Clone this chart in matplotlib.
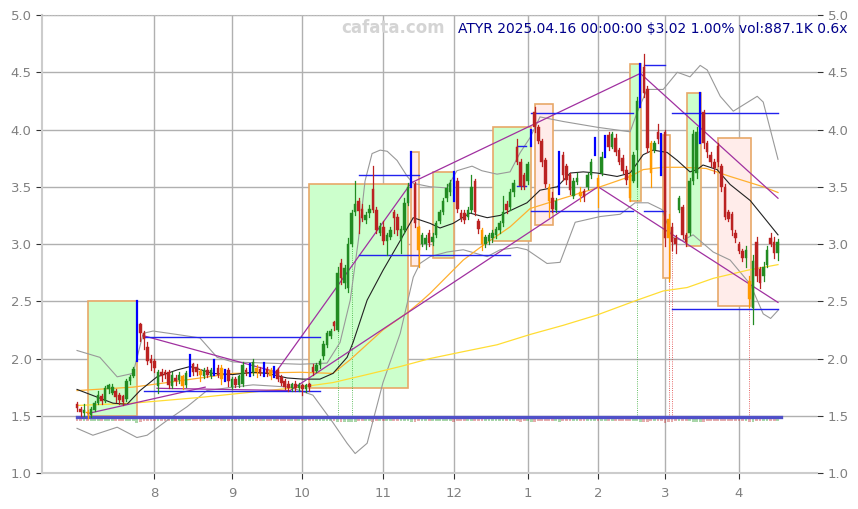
import numpy as np
import matplotlib.pyplot as plt
from matplotlib.patches import Rectangle

# daily bars, trading-day index 0 = 2024-07-01, 199 = 2025-04-16
opens = [
    # Jul
    1.60, 1.56, 1.52, 1.53, 1.51, 1.55, 1.61, 1.67, 1.63, 1.73, 1.70, 1.72, 1.68, 1.67, 1.65, 1.80, 1.85, 1.99, 2.30, 2.22, 2.10, 2.00,
    # Aug
    1.98, 1.76, 1.88, 1.88, 1.88, 1.76, 1.83, 1.81, 1.85, 1.77, 1.90, 1.95, 1.93, 1.89, 1.85, 1.90, 1.85, 1.88, 1.92, 1.92, 1.82, 1.90,
    # Sep
    1.75, 1.82, 1.77, 1.78, 1.90, 1.88, 1.88, 1.92, 1.91, 1.88, 1.91, 1.90, 1.86, 1.90, 1.84, 1.80, 1.78, 1.74, 1.78, 1.74,
    # Oct
    1.77, 1.73, 1.78, 1.93, 1.89, 1.94, 2.02, 2.12, 2.20, 2.32, 2.25, 2.83, 2.66, 2.62, 3.00, 3.28, 3.38, 3.31, 3.21, 3.27, 3.48, 3.30, 3.10,
    # Nov
    3.15, 3.03, 3.06, 3.28, 3.24, 3.04, 3.12, 3.36, 3.52, 3.52, 3.15, 3.00, 3.00, 3.10, 3.02, 3.08, 3.20, 3.28, 3.40, 3.45,
    # Dec
    3.62, 3.55, 3.27, 3.27, 3.24, 3.30, 3.55, 3.20, 3.12, 3.00, 3.03, 3.05, 3.08, 3.12, 3.18, 3.35, 3.32, 3.45, 3.85, 3.72, 3.60,
    # Jan
    3.55, 3.88, 4.15, 4.02, 3.90, 3.73, 3.50, 3.40, 3.30, 3.45, 3.78, 3.68, 3.60, 3.42, 3.54, 3.45, 3.46, 3.50, 3.60, 3.80,
    # Feb
    3.58, 3.62, 3.78, 3.95, 3.85, 3.93, 3.82, 3.75, 3.65, 3.60, 3.55, 3.82, 4.22, 4.55, 4.35, 3.88, 3.82, 3.98, 3.95,
    # Mar
    3.98, 3.22, 3.15, 3.05, 3.30, 3.32, 3.08, 3.10, 3.55, 3.62, 3.92, 4.15, 3.88, 3.78, 3.72, 3.86, 3.68, 3.50, 3.28, 3.26, 3.10,
    # Apr
    3.00, 2.94, 2.88, 2.68, 2.44, 3.02, 2.78, 2.72, 2.82, 3.05, 3.02, 2.92,
]
highs = [
    1.62, 1.58, 1.60, 1.55, 1.58, 1.63, 1.72, 1.69, 1.76, 1.78, 1.78, 1.73, 1.70, 1.68, 1.82, 1.86, 1.93, 2.50, 2.31, 2.24, 2.14, 2.03,
    2.00, 1.90, 1.91, 1.90, 1.90, 1.88, 1.86, 1.88, 1.86, 1.89, 2.03, 1.96, 1.95, 1.91, 1.92, 1.93, 1.92, 1.99, 1.94, 1.94, 1.90, 1.92,
    1.84, 1.84, 1.86, 1.97, 1.92, 1.95, 2.00, 1.94, 1.93, 1.96, 1.93, 1.92, 1.93, 1.92, 1.86, 1.82, 1.80, 1.79, 1.80, 1.79,
    1.78, 1.78, 1.79, 1.95, 1.96, 2.00, 2.15, 2.24, 2.26, 2.33, 2.80, 2.87, 2.82, 3.05, 3.30, 3.55, 3.40, 3.35, 3.28, 3.34, 3.68, 3.32, 3.18,
    3.20, 3.10, 3.15, 3.30, 3.26, 3.16, 3.40, 3.53, 3.80, 3.54, 3.16, 3.10, 3.08, 3.12, 3.10, 3.20, 3.30, 3.40, 3.52, 3.56,
    3.63, 3.58, 3.30, 3.30, 3.32, 3.60, 3.57, 3.22, 3.14, 3.08, 3.10, 3.12, 3.15, 3.20, 3.42, 3.38, 3.48, 3.56, 3.92, 3.74, 3.62,
    3.72, 4.00, 4.20, 4.04, 3.92, 3.75, 3.52, 3.45, 3.40, 3.80, 3.80, 3.70, 3.62, 3.58, 3.62, 3.50, 3.48, 3.62, 3.74, 3.93,
    3.60, 3.80, 3.94, 3.98, 3.98, 3.96, 3.84, 3.78, 3.68, 3.62, 3.80, 4.28, 4.57, 4.66, 4.38, 3.90, 3.90, 4.05, 3.96,
    4.00, 3.26, 3.18, 3.08, 3.42, 3.34, 3.10, 3.58, 4.00, 4.02, 4.32, 4.17, 3.90, 3.80, 3.74, 3.88, 3.70, 3.52, 3.30, 3.28, 3.12,
    3.02, 2.96, 2.98, 2.72, 2.90, 3.06, 2.80, 2.84, 2.98, 3.10, 3.06, 3.04,
]
lows = [
    1.54, 1.50, 1.50, 1.48, 1.49, 1.54, 1.60, 1.60, 1.62, 1.70, 1.69, 1.62, 1.60, 1.59, 1.63, 1.78, 1.84, 1.98, 2.15, 2.08, 1.95, 1.90,
    1.88, 1.70, 1.80, 1.83, 1.74, 1.74, 1.77, 1.79, 1.73, 1.75, 1.85, 1.86, 1.86, 1.80, 1.83, 1.84, 1.83, 1.86, 1.84, 1.78, 1.80, 1.76,
    1.73, 1.75, 1.75, 1.76, 1.86, 1.85, 1.86, 1.84, 1.86, 1.85, 1.85, 1.82, 1.84, 1.80, 1.77, 1.73, 1.72, 1.72, 1.72, 1.72,
    1.68, 1.71, 1.72, 1.86, 1.88, 1.92, 2.00, 2.10, 2.18, 2.25, 2.24, 2.65, 2.62, 2.58, 2.98, 3.25, 3.10, 3.20, 3.18, 3.24, 3.28, 3.10, 3.08,
    3.00, 2.90, 3.04, 3.10, 3.08, 2.92, 3.10, 3.34, 3.50, 3.15, 2.80, 2.98, 2.96, 2.98, 2.99, 3.06, 3.18, 3.26, 3.38, 3.43,
    3.38, 3.28, 3.20, 3.18, 3.22, 3.28, 3.25, 3.10, 2.95, 2.97, 3.00, 3.02, 3.05, 3.10, 3.16, 3.27, 3.30, 3.42, 3.70, 3.48, 3.48,
    3.52, 3.86, 3.98, 3.88, 3.68, 3.50, 3.24, 3.28, 3.28, 3.44, 3.56, 3.52, 3.44, 3.40, 3.52, 3.38, 3.38, 3.48, 3.58, 3.78,
    3.32, 3.60, 3.76, 3.82, 3.84, 3.78, 3.70, 3.62, 3.52, 3.38, 3.54, 3.50, 4.20, 4.28, 3.80, 3.50, 3.80, 3.88, 3.60,
    2.98, 2.68, 2.95, 2.92, 3.28, 3.05, 2.98, 3.08, 3.52, 3.58, 3.88, 3.84, 3.76, 3.68, 3.62, 3.68, 3.46, 3.22, 3.20, 3.08, 3.02,
    2.92, 2.85, 2.80, 2.45, 2.30, 2.68, 2.62, 2.68, 2.80, 2.98, 2.88, 2.86,
]
closes = [
    1.57, 1.53, 1.55, 1.52, 1.56, 1.61, 1.68, 1.63, 1.74, 1.77, 1.75, 1.66, 1.64, 1.62, 1.80, 1.84, 1.91, 2.24, 2.22, 2.17, 1.98, 1.96,
    1.92, 1.88, 1.85, 1.86, 1.77, 1.86, 1.80, 1.86, 1.76, 1.87, 1.95, 1.88, 1.88, 1.86, 1.90, 1.86, 1.90, 1.93, 1.86, 1.82, 1.86, 1.80,
    1.82, 1.77, 1.85, 1.94, 1.88, 1.90, 1.97, 1.88, 1.87, 1.92, 1.87, 1.85, 1.90, 1.82, 1.79, 1.75, 1.74, 1.78, 1.74, 1.77,
    1.73, 1.77, 1.75, 1.88, 1.94, 1.98, 2.13, 2.22, 2.24, 2.28, 2.75, 2.70, 2.79, 3.00, 3.27, 3.35, 3.29, 3.23, 3.25, 3.31, 3.30, 3.12, 3.16,
    3.03, 3.08, 3.12, 3.23, 3.12, 3.13, 3.36, 3.50, 3.54, 3.18, 2.95, 3.08, 3.05, 3.01, 3.06, 3.18, 3.28, 3.38, 3.49, 3.53,
    3.42, 3.31, 3.23, 3.21, 3.30, 3.50, 3.28, 3.13, 3.00, 3.06, 3.08, 3.10, 3.13, 3.18, 3.28, 3.30, 3.45, 3.53, 3.72, 3.51, 3.50,
    3.70, 3.98, 4.02, 3.90, 3.72, 3.52, 3.38, 3.31, 3.38, 3.72, 3.60, 3.56, 3.47, 3.55, 3.58, 3.42, 3.41, 3.60, 3.72, 3.90,
    3.50, 3.76, 3.90, 3.85, 3.96, 3.80, 3.72, 3.64, 3.56, 3.40, 3.78, 4.25, 4.50, 4.32, 3.84, 3.62, 3.88, 3.92, 3.65,
    3.05, 3.05, 3.02, 3.00, 3.40, 3.08, 3.02, 3.55, 3.96, 3.98, 4.10, 3.88, 3.80, 3.72, 3.66, 3.72, 3.50, 3.24, 3.22, 3.12, 3.05,
    2.94, 2.88, 2.95, 2.52, 2.85, 2.72, 2.66, 2.80, 2.95, 3.00, 2.92, 3.02,
]
# volume, hundreds of thousands of shares
volume = [
    4, 3, 3, 5, 4, 5, 6, 4, 7, 6, 8, 5, 4, 5, 6, 7, 9, 30, 14, 10, 8, 7,
    6, 8, 5, 4, 6, 5, 4, 5, 6, 5, 9, 6, 5, 5, 4, 4, 5, 7, 5, 5, 6, 5,
    4, 5, 4, 9, 5, 6, 8, 5, 4, 7, 4, 5, 6, 5, 4, 4, 5, 4, 4, 5,
    6, 5, 4, 8, 9, 7, 10, 12, 9, 8, 25, 18, 14, 20, 22, 18, 12, 10, 8, 9, 15, 11, 9,
    10, 8, 7, 9, 8, 7, 10, 12, 20, 16, 12, 8, 7, 6, 7, 8, 9, 10, 9, 11,
    14, 10, 8, 7, 6, 10, 9, 8, 9, 7, 6, 6, 5, 5, 6, 8, 7, 9, 10, 16, 11,
    9, 14, 15, 10, 9, 10, 11, 8, 7, 14, 9, 8, 7, 7, 6, 6, 7, 7, 9, 10,
    8, 9, 10, 8, 8, 7, 7, 6, 6, 7, 9, 8, 18, 25, 16, 12, 10, 8, 9,
    30, 20, 14, 10, 9, 12, 8, 8, 14, 16, 15, 14, 10, 9, 8, 9, 10, 11, 9, 8, 9,
    10, 9, 8, 20, 18, 12, 10, 9, 8, 9, 8, 9,
]
blue_bars = [17, 32, 39, 42, 49, 53, 56, 95, 107, 129, 137, 147, 150, 160, 166, 177]
orange_bars = [3, 30, 35, 41, 51, 55, 97, 115, 134, 143, 148, 157, 163, 168, 191]
green_marks = [74, 78, 159]
red_marks = [168, 169, 191]

month_pos = [22, 44, 64, 87, 107, 128, 148, 167, 188]
month_lbl = ['8', '9', '10', '11', '12', '1', '2', '3', '4']

# indicator lines: (bar index, price)
ma_short = [(0, 1.73), (10.2, 1.61), (14.2, 1.60), (17.9, 1.72), (22.7, 1.84), (28.4, 1.90), (32.1, 1.93),
            (38.6, 1.87), (44.3, 1.86), (50, 1.88), (54, 1.87), (59.7, 1.83), (64.2, 1.82), (69, 1.82),
            (72.7, 1.87), (76.7, 2.01), (78.4, 2.14), (82.4, 2.51), (86.9, 2.77), (91.8, 3.03), (95.5, 3.23),
            (100.3, 3.18), (103.1, 3.14), (106.8, 3.18), (111.6, 3.27), (116.5, 3.23), (120.2, 3.25),
            (125, 3.32), (127.8, 3.36), (131.5, 3.47), (136.4, 3.50), (140.1, 3.62), (143.8, 3.63),
            (147.7, 3.62), (153.4, 3.59), (157.1, 3.62), (160.8, 3.78), (163.6, 3.82), (167.6, 3.80),
            (170.5, 3.73), (174.1, 3.63), (176.1, 3.65), (177.8, 3.69), (181.8, 3.65), (185.5, 3.52),
            (191.2, 3.38), (194.9, 3.24), (199.1, 3.08)]
ma_mid = [(0, 1.72), (15.9, 1.75), (25.6, 1.79), (44.3, 1.87), (63.4, 1.88), (72.7, 1.87), (77.6, 1.99),
          (86.9, 2.25), (93.8, 2.40), (97.4, 2.49), (100.3, 2.57), (109.7, 2.86), (114.5, 2.97),
          (123, 3.15), (128.7, 3.31), (138.1, 3.40), (147.7, 3.49), (157.1, 3.59), (160.8, 3.65),
          (166.5, 3.67), (172, 3.67), (178.7, 3.66), (185.5, 3.59), (194.9, 3.50), (199.1, 3.45)]
ma_long = [(0, 1.59), (15.9, 1.61), (34.9, 1.66), (54, 1.72), (63.4, 1.75), (72.7, 1.79), (82.4, 1.86),
           (91.8, 1.93), (100.3, 2.00), (109.7, 2.06), (119.3, 2.12), (128.7, 2.21), (138.1, 2.29),
           (147.7, 2.38), (159.1, 2.51), (166.5, 2.59), (173.3, 2.62), (180.7, 2.70), (190.3, 2.77),
           (199.1, 2.82)]
bb_upper = [(0, 2.07), (6.5, 2.01), (11.4, 1.84), (15.9, 1.87), (18.8, 2.22), (21.6, 2.24), (28.4, 2.21),
            (34.9, 2.18), (39.8, 2.01), (44.3, 1.97), (54, 1.96), (63.4, 1.95), (71, 1.96), (74.7, 2.14),
            (77.6, 2.51), (79.9, 3.03), (81.8, 3.55), (83.8, 3.79), (86.1, 3.82), (88.1, 3.81),
            (90.9, 3.73), (93.8, 3.59), (95.5, 3.53), (100.3, 3.50), (105.1, 3.49), (107.9, 3.64),
            (112.2, 3.68), (115, 3.64), (119.3, 3.61), (123, 3.63), (125.9, 3.80), (128.7, 3.93),
            (131.5, 4.11), (138.1, 4.07), (147.7, 4.02), (157.1, 3.98), (159.1, 4.15), (161.9, 4.35),
            (166.5, 4.35), (170.5, 4.50), (174.1, 4.46), (177, 4.56), (179, 4.52), (182.7, 4.29),
            (186.4, 4.16), (193.2, 4.29), (194.9, 4.24), (199.1, 3.74)]
bb_lower = [(0, 1.39), (4.5, 1.33), (11.4, 1.40), (17, 1.31), (19.9, 1.33), (25.6, 1.46), (31.3, 1.58),
            (36.9, 1.72), (44.3, 1.75), (50, 1.77), (60.5, 1.75), (67, 1.68), (72.7, 1.44), (76.7, 1.26),
            (79, 1.17), (82.4, 1.26), (86.9, 1.79), (91.8, 2.22), (95.5, 2.71), (97.4, 2.83),
            (100.3, 2.89), (105.1, 2.93), (109.7, 2.95), (116.5, 2.89), (120.2, 2.95), (125, 2.97),
            (127.8, 2.95), (133.5, 2.83), (137.2, 2.84), (141.5, 3.19), (148.6, 3.24), (154.3, 3.26),
            (158.5, 3.36), (162.2, 3.36), (166.2, 3.30), (169, 3.06), (171.9, 3.03), (175, 3.08),
            (180.7, 2.93), (185.5, 2.86), (191.2, 2.65), (194.9, 2.39), (197, 2.35), (199.1, 2.42)]

# boxes: (start bar, end bar, low, high)
up_boxes = [(3.2, 17, 1.50, 2.50), (66, 94, 1.74, 3.52), (101, 107, 2.88, 3.63),
            (118.2, 129, 3.03, 4.02), (157.1, 160.2, 3.38, 4.57), (173.2, 177.2, 2.98, 4.32)]
down_boxes = [(95, 97.2, 2.81, 3.80), (130, 135.2, 3.17, 4.22), (166.3, 168.3, 2.70, 3.95),
              (182, 191.5, 2.46, 3.93)]
# support / resistance: (start bar, end bar, price)
levels = [(19, 69, 2.19), (19, 69, 1.72), (80, 97, 3.60), (80, 123, 2.90), (125, 127.5, 3.86),
          (125, 127.5, 3.51), (129, 158, 4.14), (129, 158, 3.29), (161, 167, 4.56), (161, 167, 3.29),
          (169, 199, 4.14), (169, 199, 2.43)]
# trend lines: ((bar, price), (bar, price))
trends = [((3.1, 1.52), (36.4, 1.75)), ((18.75, 2.20), (56.8, 1.88)), ((22.7, 1.74), (60.5, 1.72)),
          ((56, 1.86), (94.6, 3.52)), ((94.6, 3.53), (160, 4.49)), ((60.5, 1.72), (148, 3.50)),
          ((148, 3.50), (199.1, 2.49)), ((160, 4.49), (199.1, 3.40))]

vol_base = 1.486
title = 'ATYR 2025.04.16 00:00:00 $3.02 1.00% vol:887.1K 0.6x'

fig = plt.figure(figsize=(8.58, 5.09), dpi=100)
ax = fig.add_axes([0.049, 0.0707, 0.9033, 0.8998])

n = len(closes)
idx = np.arange(n)

for x0, x1, lo, hi in up_boxes:
    ax.add_patch(Rectangle((x0, lo), x1 - x0, hi - lo, facecolor='#ccffcc', edgecolor='#e8a868', lw=1.2, zorder=1))
for x0, x1, lo, hi in down_boxes:
    ax.add_patch(Rectangle((x0, lo), x1 - x0, hi - lo, facecolor='#ffecea', edgecolor='#e8a868', lw=1.2, zorder=1))

for pts, col, lw in [(bb_upper, '#999999', 0.8), (bb_lower, '#999999', 0.8), (ma_long, '#ffdd33', 0.9),
                     (ma_mid, '#ffb030', 0.9), (ma_short, '#222222', 0.8)]:
    p = np.array(pts)
    ax.plot(p[:, 0], p[:, 1], color=col, lw=lw, zorder=3)

for (a, b) in trends:
    ax.plot([a[0], b[0]], [a[1], b[1]], color='#a030a0', lw=0.9, zorder=3)

for x0, x1, y in levels:
    ax.plot([x0, x1], [y, y], color='#2222ee', lw=1.0, zorder=4)

# volume strip, hanging just under the base line
vmax = max(volume)
for i in idx:
    c = '#2a9a2a' if closes[i] >= opens[i] else '#c03030'
    h = 0.03 + 0.015 * volume[i] / vmax
    ax.add_patch(Rectangle((i - 0.4, vol_base - h), 0.8, h, facecolor=c, alpha=0.4, lw=0, zorder=2))
ax.plot([0, n], [vol_base, vol_base], color='#5050c8', lw=2.4, zorder=4)

for i in green_marks:
    ax.plot([i, i], [vol_base, lows[i]], color='#33aa33', lw=0.6, ls=':', zorder=2)
for i in red_marks:
    ax.plot([i, i], [vol_base, lows[i]], color='#dd3333', lw=0.6, ls=':', zorder=2)

# candles
for i in idx:
    o, h, l, c = opens[i], highs[i], lows[i], closes[i]
    if i in blue_bars:
        ax.plot([i, i], [l, h], color='#0000ff', lw=1.6, zorder=6)
        continue
    if i in orange_bars:
        col = '#ff9900'
    elif c >= o:
        col = '#228b22'
    else:
        col = '#bb2222'
    ax.plot([i, i], [l, h], color=col, lw=0.9, zorder=5)
    ax.add_patch(Rectangle((i - 0.36, min(o, c)), 0.72, max(abs(c - o), 0.008), facecolor=col,
                           edgecolor=col, lw=0.3, zorder=5))

ax.set_xlim(-9.94, 210.2)
ax.set_ylim(1.0, 5.0)
ax.set_xticks(month_pos)
ax.set_xticklabels(month_lbl)
ax.set_yticks(np.arange(1.0, 5.01, 0.5))
ax.set_yticklabels(['%.1f' % v for v in np.arange(1.0, 5.01, 0.5)])
ax.grid(True, color='#b0b0b0', lw=1.0)
ax.set_axisbelow(True)
ax.tick_params(axis='both', labelsize=9.5, labelcolor='#808080', color='#333333', length=4)
ax.tick_params(axis='y', right=True, labelright=True)
ax.tick_params(axis='x', pad=6)
for s in ['left', 'bottom']:
    ax.spines[s].set_color('#cccccc')
    ax.spines[s].set_linewidth(1.5)
ax.spines['right'].set_visible(False)
ax.spines['top'].set_color('#bbbbbb')
ax.spines['top'].set_linestyle(':')

fig.text(393 / 858, 1 - 28 / 509, 'cafata.com', ha='center', va='center', fontsize=12,
         fontweight='bold', color='#d4d4d4')
fig.text(848 / 858, 1 - 29 / 509, title, ha='right', va='center', fontsize=10, color='#00008b')

fig.savefig('out.png', dpi=100)
